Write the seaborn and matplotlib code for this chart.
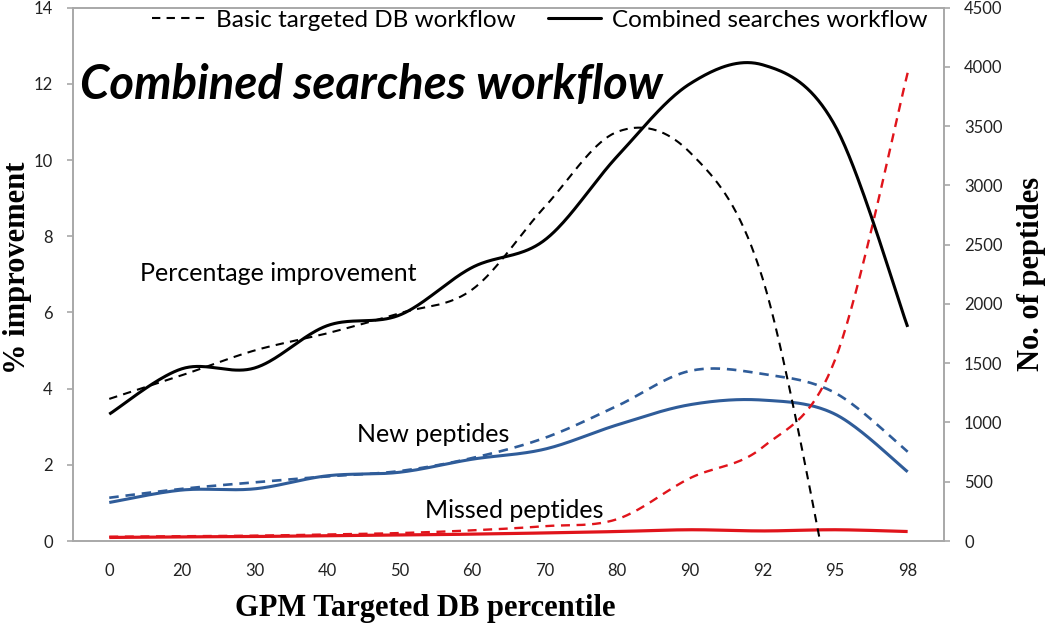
import numpy as np
import pandas as pd
import matplotlib
matplotlib.use("Agg")
import matplotlib.pyplot as plt
import seaborn as sns
from matplotlib.lines import Line2D

# ---------------- data ----------------
percentiles = ["0", "20", "30", "40", "50", "60", "70", "80", "90", "92", "95", "98"]

# % improvement (left axis)
pct_basic = [3.73, 4.35, 5.0, 5.45, 5.98, 6.6, 8.77, 10.74, 10.2, 6.9, -2.0, np.nan]
pct_combined = [3.33, 4.52, 4.54, 5.65, 5.93, 7.18, 7.9, 10.1, 12.0, 12.5, 10.9, 5.62]

# number of peptides (right axis)
new_basic = [365, 440, 495, 545, 590, 700, 870, 1140, 1435, 1410, 1250, 753]
new_combined = [325, 430, 440, 550, 580, 690, 775, 980, 1150, 1189, 1070, 584]
missed_basic = [36, 40, 45, 55, 67, 90, 125, 185, 530, 790, 1530, 3950]
missed_combined = [30, 35, 38, 45, 50, 58, 68, 80, 95, 85, 95, 80]

legend_labels = ["Basic targeted DB workflow", "Combined searches workflow"]

# ---------------- style ----------------
sns.set_style("white")
plt.rcParams["font.family"] = ["Lato", "DejaVu Sans"]
plt.rcParams["text.color"] = "black"

BLACK = "#000000"
BLUE = "#2F5C99"
RED = "#E0141B"
SPINE = "#A8A8A8"


def smooth(values, n=40):
    """Excel-style smoothed line (Bezier through the points)."""
    pts = [(float(i), float(v)) for i, v in enumerate(values) if not np.isnan(v)]
    P = np.array(pts)
    xs, ys = [], []
    m = len(P)
    t = np.linspace(0, 1, n)
    for i in range(m - 1):
        p0 = P[i - 1] if i > 0 else P[i]
        p1 = P[i]
        p2 = P[i + 1]
        p3 = P[i + 2] if i + 2 < m else P[i + 1]
        c1 = p1 + (p2 - p0) / 6.0
        c2 = p2 - (p3 - p1) / 6.0
        b = ((1 - t) ** 3)[:, None] * p1 + (3 * (1 - t) ** 2 * t)[:, None] * c1 \
            + (3 * (1 - t) * t ** 2)[:, None] * c2 + (t ** 3)[:, None] * p2
        if i > 0:
            b = b[1:]
        xs.extend(b[:, 0])
        ys.extend(b[:, 1])
    return pd.DataFrame({"x": xs, "y": ys})


fig = plt.figure(figsize=(10.5, 6.24), dpi=100)
ax = fig.add_axes([0.0695, 0.133, 0.8295, 0.8548])
ax2 = ax.twinx()


def draw(axis, values, color, lw, dash=None):
    d = smooth(values)
    sns.lineplot(data=d, x="x", y="y", ax=axis, color=color, linewidth=lw,
                 sort=False, estimator=None, legend=False)
    line = axis.lines[-1]
    if dash is not None:
        line.set_dashes(dash)
    line.set_solid_capstyle("butt")
    line.set_dash_capstyle("butt")


# right-axis series (peptide counts)
draw(ax2, new_basic, BLUE, 1.9, (3.6, 2.6))
draw(ax2, new_combined, BLUE, 2.2)
draw(ax2, missed_basic, RED, 1.7, (3.8, 2.8))
draw(ax2, missed_combined, RED, 2.3)

# left-axis series (% improvement)
draw(ax, pct_basic, BLACK, 1.5, (4.0, 3.0))
draw(ax, pct_combined, BLACK, 2.2)

ax.set_zorder(ax2.get_zorder() + 1)
ax.patch.set_visible(False)

# ---------------- axes ----------------
ax.set_xlim(-0.5, len(percentiles) - 0.5)
ax.set_ylim(0, 14)
ax2.set_ylim(0, 4500)
ax.set_yticks(np.arange(0, 15, 2))
ax2.set_yticks(np.arange(0, 4501, 500))
ax.set_xticks(range(len(percentiles)))
ax.set_xticklabels(percentiles)
ax.set_xticks(np.arange(-0.5, len(percentiles)), minor=True)
ax.set_xlabel("")
ax.set_ylabel("")
ax2.set_ylabel("")

for a in (ax, ax2):
    for s in a.spines.values():
        s.set_color(SPINE)
        s.set_linewidth(1.2)
        s.set_visible(True)

ax.tick_params(axis="x", which="major", length=0, pad=16, labelsize=12, colors="#222222")
ax.tick_params(axis="x", which="minor", length=5, width=1.2, color=SPINE, direction="out")
ax.tick_params(axis="y", length=4.5, width=1.2, color=SPINE, direction="out", pad=10,
               labelsize=12, labelcolor="#222222")
ax2.tick_params(axis="y", length=4.5, width=1.2, color=SPINE, direction="out", pad=10,
                labelsize=12, labelcolor="#222222")
ax.tick_params(axis="y", left=True)
ax2.tick_params(axis="y", right=True)

# ---------------- texts ----------------
serif = ["Liberation Serif", "DejaVu Serif"]
fig.text(18 / 1050, 1 - 268 / 624, "% improvement", rotation=90, ha="center", va="center",
         family=serif, fontweight="bold", fontsize=22, color="black")
fig.text(1031 / 1050, 1 - 274 / 624, "No. of peptides", rotation=90, ha="center", va="center",
         family=serif, fontweight="bold", fontsize=22, color="black")
fig.text(425 / 1050, 1 - 616 / 624, "GPM Targeted DB percentile", ha="center", va="baseline",
         family=serif, fontweight="bold", fontsize=22, color="black")

ax.text(0.008, 0.855, "Combined searches workflow", transform=ax.transAxes,
        ha="left", va="center", fontsize=34, fontweight="bold", fontstyle="italic",
        color="black")
ax.text(0.077, 0.502, "Percentage improvement", transform=ax.transAxes,
        ha="left", va="center", fontsize=18, color="black")
ax.text(0.326, 0.199, "New peptides", transform=ax.transAxes,
        ha="left", va="center", fontsize=18, color="black")
ax.text(0.404, 0.058, "Missed peptides", transform=ax.transAxes,
        ha="left", va="center", fontsize=18, color="black")

handles = [Line2D([0], [0], color=BLACK, lw=1.5, dashes=(4.0, 3.0)),
           Line2D([0], [0], color=BLACK, lw=2.2)]
leg = ax.legend(handles, legend_labels, loc="upper center", bbox_to_anchor=(0.536, 1.014),
                ncol=2, frameon=False, fontsize=17.5, handlelength=2.2, handletextpad=0.45,
                columnspacing=1.3, borderaxespad=0.0)
for txt in leg.get_texts():
    txt.set_color("black")

fig.savefig("out.png", dpi=100)
